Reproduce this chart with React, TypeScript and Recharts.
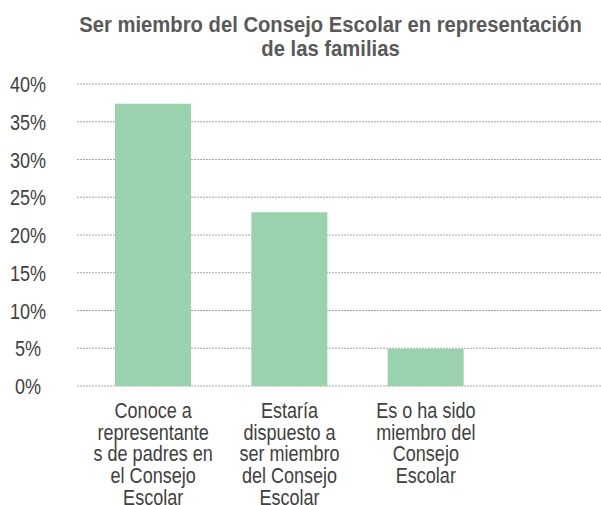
import React from 'react';
import { BarChart, Bar, XAxis, YAxis, CartesianGrid } from 'recharts';

const categories = [
  'Conoce a representantes de padres en el Consejo Escolar',
  'Estaría dispuesto a ser miembro del Consejo Escolar',
  'Es o ha sido miembro del Consejo Escolar',
];
const categoryLines = [
  ['Conoce a', 'representante', 's de padres en', 'el Consejo', 'Escolar'],
  ['Estaría', 'dispuesto a', 'ser miembro', 'del Consejo', 'Escolar'],
  ['Es o ha sido', 'miembro del', 'Consejo', 'Escolar'],
];
const values = [37.4, 23.0, 4.9];
const yTicks = [0, 5, 10, 15, 20, 25, 30, 35, 40];
const titleLines = ['Ser miembro del Consejo Escolar en representación', 'de las familias'];

const data = categories.map((c, i) => ({ name: c, lines: categoryLines[i], value: values[i] }));

const FONT = '"Liberation Sans", Arial, sans-serif';
const SX = 0.82;
const TITLE_SX = 0.92;

const YTick = (props: any) => {
  const { x, y, payload } = props;
  return (
    <g transform={`translate(${x - 49},${y}) scale(${SX},1)`}>
      <text x={0} y={0} dy={8} textAnchor="middle" fontFamily={FONT} fontSize={22} fill="#404040">
        {`${payload.value}%`}
      </text>
    </g>
  );
};

const XTick = (props: any) => {
  const { x, y, index } = props;
  const lines = categoryLines[index] || [];
  return (
    <g transform={`translate(${x},${y}) scale(${SX},1)`}>
      <text x={0} y={0} textAnchor="middle" fontFamily={FONT} fontSize={22} fill="#404040">
        {lines.map((l, i) => (
          <tspan key={i} x={0} dy={i === 0 ? 32 : 21.7}>
            {l}
          </tspan>
        ))}
      </text>
    </g>
  );
};

export default function App() {
  return (
    <div style={{ position: 'absolute', left: 0, top: 0, width: 601, height: 505, background: '#fff' }}>
      <svg width={601} height={80} style={{ position: 'absolute', left: 0, top: 0 }}>
        {titleLines.map((t, i) => (
          <g key={i} transform={`translate(330.5,${32 + i * 23.5}) scale(${TITLE_SX},1)`}>
            <text
              x={0}
              y={0}
              textAnchor="middle"
              fontFamily={FONT}
              fontWeight="bold"
              fontSize={22}
              fill="#595959"
            >
              {t}
            </text>
          </g>
        ))}
      </svg>
      <div style={{ position: 'absolute', left: 0, top: 0 }}>
        <BarChart
          width={601}
          height={505}
          data={data}
          margin={{ top: 84, right: 0, bottom: 0, left: 0 }}
          barSize={76}
        >
          <CartesianGrid vertical={false} stroke="#a6a6a6" strokeDasharray="2 1" />
          <XAxis
            dataKey="name"
            axisLine={false}
            tickLine={false}
            tickSize={0}
            tickMargin={0}
            height={119}
            interval={0}
            padding={{ left: 8, right: 107 }}
            tick={<XTick />}
          />
          <YAxis
            domain={[0, 40]}
            ticks={yTicks}
            width={77}
            axisLine={false}
            tickLine={false}
            tickSize={0}
            tickMargin={0}
            tick={<YTick />}
          />
          <Bar dataKey="value" fill="#99d2ac" isAnimationActive={false} />
        </BarChart>
      </div>
    </div>
  );
}
